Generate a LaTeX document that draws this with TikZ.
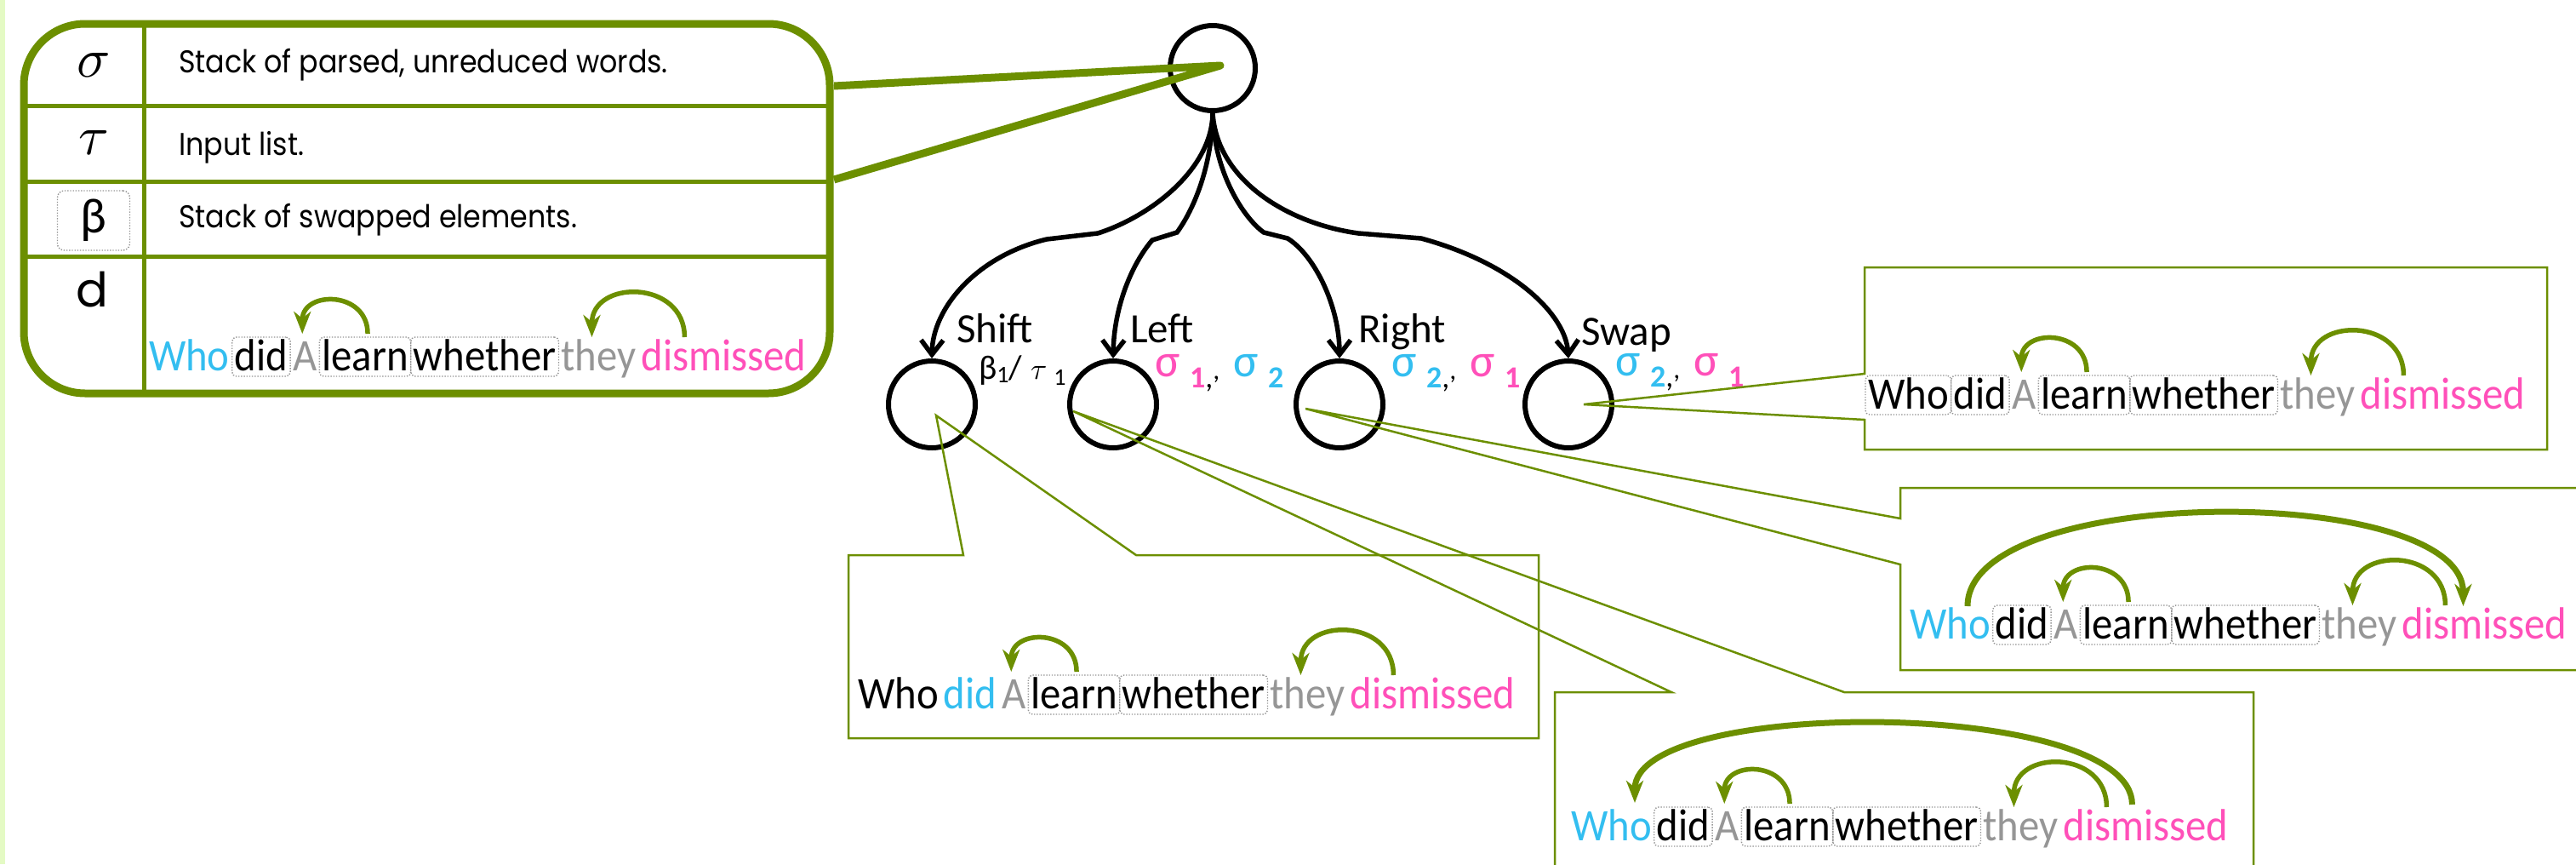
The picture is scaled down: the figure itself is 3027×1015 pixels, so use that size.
\documentclass[tikz,border=0pt]{standalone}
\usepackage{fontspec}
\setmainfont{Carlito}
\newfontfamily\gothic{Poppins}
\usetikzlibrary{arrows.meta,calc}
\definecolor{grn}{RGB}{108,143,0}
\definecolor{cy}{RGB}{51,190,240}
\definecolor{pk}{RGB}{255,80,185}
\definecolor{gy}{RGB}{150,150,150}
\definecolor{strip}{RGB}{228,250,196}
\newcommand\sx[1]{\scalebox{0.92}[1]{#1}}
\newcommand\tx[1]{\scalebox{0.9}[1]{#1}}
\newcommand\mksent[9]{%
  \node[wd,#3,anchor=base west] (#1w1) at (#2) {\sx{Who}};
  \node[wd,#4,anchor=base west] (#1w2) at (#1w1.base east) {\sx{did}};
  \node[wd,#5,anchor=base west] (#1w3) at (#1w2.base east) {\sx{A}};
  \node[wd,#6,anchor=base west] (#1w4) at (#1w3.base east) {\sx{learn}};
  \node[wd,#7,anchor=base west] (#1w5) at (#1w4.base east) {\sx{whether}};
  \node[wd,#8,anchor=base west] (#1w6) at (#1w5.base east) {\sx{they}};
  \node[wd,#9,anchor=base west] (#1w7) at (#1w6.base east) {\sx{dismissed}};
}
\newcommand\shortarcs[1]{%
  \draw[arc] ($(#1w4.base)+(3,-43)$) .. controls +(0,-51) and +(0,-51) .. ($(#1w3.base)+(-3,-43)$);
  \draw[arc] ($(#1w7.base west)+(54,-39)$) .. controls +(0,-68) and +(0,-68) .. ($(#1w6.base west)+(39,-39)$);
}
\newcommand\sgl[4]{%
  \makebox[41pt][l]{\fontsize{55}{55}\selectfont\raisebox{0pt}[26pt][0pt]{\textcolor{#1}{σ}}}%
  \makebox[51pt][l]{\raisebox{-13pt}[0pt]{\fontsize{36}{36}\selectfont\textbf{\textcolor{#1}{#2}},}\raisebox{-3pt}[0pt][0pt]{\fontsize{32}{32}\selectfont,}}%
  \makebox[41pt][l]{\fontsize{55}{55}\selectfont\raisebox{0pt}[26pt][0pt]{\textcolor{#3}{σ}}}%
  \raisebox{-13pt}[0pt]{\fontsize{36}{36}\selectfont\textbf{\textcolor{#3}{#4}}}}
\begin{document}
\begin{tikzpicture}[x=1pt,y=-1pt,
  wd/.style={inner xsep=3pt, inner ysep=1pt, text height=38pt, text depth=6pt, outer sep=0pt, font=\fontsize{53}{53}\selectfont},
  bx/.style={draw=gy, line width=1.4pt, dash pattern=on 1.4pt off 1.8pt, rounded corners=5pt, text=black},
  blk/.style={text=black}, cyw/.style={text=cy}, gyw/.style={text=gy}, pkw/.style={text=pk},
  arc/.style={draw=grn, line width=5.5pt, -{Stealth[length=26pt,width=20pt,inset=8pt]}},
  longarc/.style={arc, line width=7pt},
  callout/.style={draw=grn, line width=2.5pt},
  tstate/.style={circle, draw, line width=6pt, minimum size=102pt, inner sep=0pt},
  tarr/.style={draw, line width=5.5pt, -{Straight Barb[length=17pt,width=26pt]}},
  lbl/.style={inner sep=0pt, anchor=base west, font=\fontsize{49}{49}\selectfont},
  ttext/.style={inner sep=0pt, anchor=base west, font=\gothic\fontsize{37}{37}\selectfont}]
\useasboundingbox (0,0) rectangle (3027,1015);
\fill[strip] (0,0) rectangle (6,1015);

% ---- table (legend)
\draw[grn, line width=5pt] (169,28) -- (169,462);
\foreach \yy in {124,213,301} \draw[grn, line width=5pt] (28,\yy) -- (975,\yy);
\draw[grn, line width=9pt, rounded corners=72pt] (28,28) rectangle (975,462);
\node[inner sep=0pt] (tsig) at (110,77) {\scalebox{6.5}{$\sigma$}};
\node[inner sep=0pt] (ttau) at (110,168) {\scalebox{6.5}{$\tau$}};
\node[draw=gy, line width=1.4pt, dash pattern=on 1.4pt off 1.8pt, rounded corners=8pt, minimum width=85pt, minimum height=70pt, inner sep=0pt, font=\fontsize{58}{58}\selectfont] (tbeta) at (110,259) {β};
\node[inner sep=0pt, font=\gothic\fontsize{56}{56}\selectfont] (td) at (108,340) {d};
\node[ttext] (r1) at (210,85) {\tx{Stack of parsed, unreduced words.}};
\node[ttext] (r2) at (210,182) {\tx{Input list.}};
\node[ttext] (r3) at (210,267) {\tx{Stack of swapped elements.}};
\mksent{T}{172,435}{cyw}{bx}{gyw}{bx}{bx}{gyw}{pkw}
\shortarcs{T}

% ---- tree
\node[tstate, minimum size=100pt] (root) at (1425,80) {};
\node[tstate] (shift) at (1095,475) {};
\node[tstate] (left) at (1308,475) {};
\node[tstate] (right) at (1574,475) {};
\node[tstate] (swap) at (1843,475) {};

\coordinate (tabA) at (980,101);
\coordinate (tabB) at (980,211);
\coordinate (tipR) at (1434,77);
\draw[grn, line width=9pt, line join=round] (tabA) -- (tipR) -- (tabB);

\draw[tarr] (root.south) .. controls (1424,200) and (1350,255) .. (1290,274) -- (1230,281) .. controls (1150,300) and (1096,360) .. (shift.north);
\draw[tarr] (root.south) .. controls (1424,200) and (1400,250) .. (1383,273) -- (1354,282) .. controls (1330,310) and (1309,360) .. (left.north);
\draw[tarr] (root.south) .. controls (1426,200) and (1460,255) .. (1485,273) -- (1513,280) .. controls (1545,300) and (1574,360) .. (right.north);
\draw[tarr] (root.south) .. controls (1430,210) and (1510,262) .. (1596,274) -- (1670,280) .. controls (1780,310) and (1840,370) .. (swap.north);

\node[lbl] (lshift) at (1124,402) {Shift};
\node[lbl] (lleft) at (1328,402) {Left};
\node[lbl] (lright) at (1596,402) {Right};
\node[lbl] (lswap) at (1858,405) {Swap};
\node[inner sep=0pt, anchor=base west] (lbt) at (1150,445) {\fontsize{40}{40}\selectfont\raisebox{0pt}[28pt]{β}\raisebox{-4pt}{\fontsize{28}{28}\selectfont 1}/\hspace{10pt}{\normalsize\scalebox{3.5}{$\tau$}}\hspace{8pt}\raisebox{-7pt}{\fontsize{28}{28}\selectfont 1}};
\node[inner sep=0pt, anchor=base west] (sgL) at (1357,442) {\sgl{pk}{1}{cy}{2}};
\node[inner sep=0pt, anchor=base west] (sgR) at (1635,442) {\sgl{cy}{2}{pk}{1}};
\node[inner sep=0pt, anchor=base west] (sgS) at (1898,441) {\sgl{cy}{2}{pk}{1}};

% ---- callouts
\coordinate (tipA) at (1100,488);
\coordinate (tipB) at (1261,483);
\coordinate (tipC) at (1534,480);
\coordinate (tipD) at (1861,475);
\draw[callout] (997,652) -- (1132,652) -- (tipA) -- (1335,652) -- (1808,652) -- (1808,867) -- (997,867) -- cycle;
\draw[callout] (1827,813) -- (1964,813) -- (tipB) -- (2167,813) -- (2648,813) -- (2648,1030) -- (1827,1030) -- cycle;
\draw[callout] (2233,573) -- (3040,573) -- (3040,787) -- (2233,787) -- (2233,663) -- (tipC) -- (2233,609) -- cycle;
\draw[callout] (2191,314) -- (2993,314) -- (2993,528) -- (2191,528) -- (2191,493) -- (tipD) -- (2191,439) -- cycle;

% Shift result
\mksent{A}{1005,832}{blk}{cyw}{gyw}{bx}{bx}{gyw}{pkw}
\shortarcs{A}
% Left result
\mksent{B}{1843,987}{cyw}{bx}{gyw}{bx}{bx}{gyw}{pkw}
\shortarcs{B}
\draw[longarc] ($(Bw7.base west)+(84,-42)$) .. controls +(0,-125) and +(0,-125) .. ($(Bw1.base west)+(78,-44)$);
% Right result
\mksent{C}{2241,750}{cyw}{bx}{gyw}{bx}{bx}{gyw}{pkw}
\shortarcs{C}
\draw[longarc] ($(Cw1.base west)+(71,-38)$) .. controls +(0,-145) and +(0,-145) .. ($(Cw7.base west)+(75,-38)$);
% Swap result
\mksent{D}{2192,480}{bx}{bx}{gyw}{bx}{bx}{gyw}{pkw}
\shortarcs{D}
\end{tikzpicture}
\end{document}
